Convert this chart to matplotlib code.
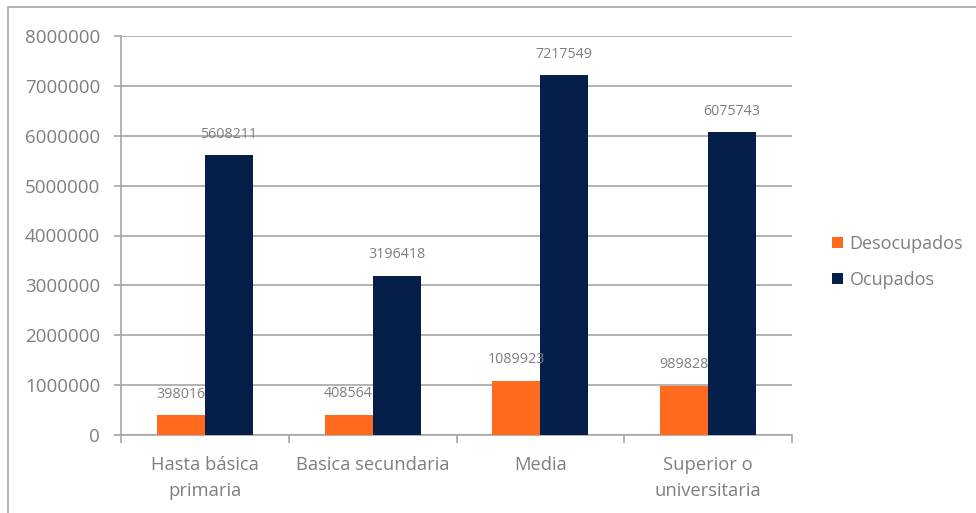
import matplotlib.pyplot as plt
import numpy as np
from matplotlib.patches import Rectangle

# Datos
categorias = ['Hasta básica\nprimaria', 'Basica secundaria', 'Media', 'Superior o\nuniversitaria']
desocupados = [398016, 408564, 1089923, 989828]
ocupados = [5608211, 3196418, 7217549, 6075743]
series = ['Desocupados', 'Ocupados']

naranja = '#FF6A1F'
azul = '#061F4A'
gris = '#7F7F7F'
gris_linea = '#A6A6A6'

plt.rcParams['font.family'] = ['Open Sans', 'DejaVu Sans']

fig = plt.figure(figsize=(9.76, 5.13), dpi=100)
ax = fig.add_axes([121 / 976, 1 - 435 / 513, (792 - 121) / 976, (435 - 36) / 513])

x = np.arange(len(categorias))
w = 0.286
b1 = ax.bar(x - w / 2, desocupados, w, color=naranja, label=series[0], zorder=3)
b2 = ax.bar(x + w / 2, ocupados, w, color=azul, label=series[1], zorder=3)

# etiquetas de valor
for barras in (b1, b2):
    for r in barras:
        v = r.get_height()
        ax.annotate(str(int(v)), (r.get_x() + r.get_width() / 2, v),
                    xytext=(0, 15), textcoords='offset points',
                    ha='center', va='center', fontsize=10.3, color=gris)

ax.set_xlim(-0.5, len(categorias) - 0.5)
ax.set_ylim(0, 8000000)
ax.set_yticks(np.arange(0, 8000001, 1000000))
ax.set_yticklabels([str(v) for v in range(0, 8000001, 1000000)])
ax.yaxis.grid(True, color=gris_linea, linewidth=1.2, zorder=0)
ax.set_axisbelow(True)

ax.set_xticks(x)
ax.set_xticklabels(categorias, linespacing=1.6)
ax.set_xticks(np.arange(-0.5, len(categorias)), minor=True)
ax.tick_params(axis='x', which='major', length=0, pad=15, labelsize=13.2, labelcolor=gris)
ax.tick_params(axis='x', which='minor', length=6, color=gris_linea, width=1.2)
ax.tick_params(axis='y', length=5, color=gris_linea, width=1.2, pad=10,
               labelsize=13.5, labelcolor=gris)

for s in ['top', 'right']:
    ax.spines[s].set_visible(False)
for s in ['left', 'bottom']:
    ax.spines[s].set_color(gris_linea)
    ax.spines[s].set_linewidth(1.2)

leg = fig.legend(handles=[b1, b2], labels=series, loc='center left',
                 bbox_to_anchor=(816 / 976, 1 - 262 / 513), frameon=False,
                 fontsize=13, handlelength=0.6, handleheight=0.6,
                 handletextpad=0.35, labelspacing=1.0)
for t in leg.get_texts():
    t.set_color(gris)

# marco exterior
fig.add_artist(Rectangle((8 / 976, -0.1), 1.2, 1 - 7 / 513 + 0.1,
                         transform=fig.transFigure, fill=False,
                         edgecolor=gris_linea, linewidth=1.2))

fig.savefig('out.png', dpi=100)
